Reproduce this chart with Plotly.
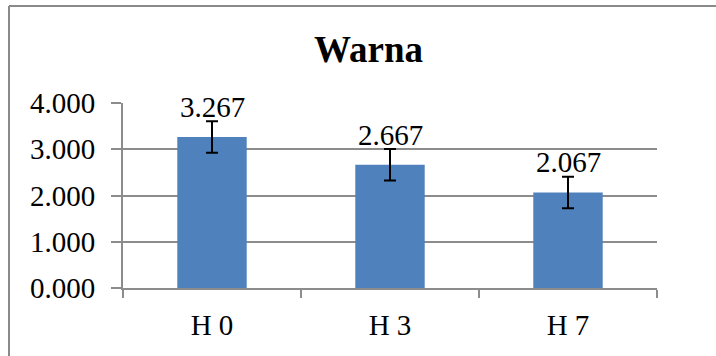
import plotly.graph_objects as go

categories = ["H 0", "H 3", "H 7"]
values = [3.267, 2.667, 2.067]
errors = [0.34, 0.34, 0.34]
labels = ["3.267", "2.667", "2.067"]
y_ticks = [0, 1, 2, 3, 4]
y_ticktext = ["0.000", "1.000", "2.000", "3.000", "4.000"]

FONT = "Liberation Serif, Times New Roman, serif"
GRID = "#8c8c8c"

fig = go.Figure()
fig.add_trace(go.Bar(
    x=categories, y=values,
    marker=dict(color="#4F81BD", line=dict(width=0)),
    width=0.39,
    error_y=dict(type="data", array=errors, visible=True,
                 color="black", thickness=2, width=6),
    hoverinfo="skip",
))

for c, v, t in zip(categories, values, labels):
    fig.add_annotation(x=c, y=v, text=t, showarrow=False,
                       xanchor="center", yanchor="bottom", yshift=12,
                       font=dict(family=FONT, size=29, color="black"))

fig.add_annotation(xref="paper", yref="paper", x=(368 - 123) / 534, y=(288 - 49) / 185,
                   text="<b>Warna</b>", showarrow=False,
                   xanchor="center", yanchor="middle",
                   font=dict(family=FONT, size=37, color="black"))

# outer chart frame (partly cut off by the page edges)
fx = (9 - 123) / 534
fy = (288 - 6) / 185
fig.add_shape(type="line", xref="paper", yref="paper", x0=fx, x1=1.3, y0=fy, y1=fy,
              line=dict(color="#8a8a8a", width=2))
fig.add_shape(type="line", xref="paper", yref="paper", x0=fx, x1=fx, y0=fy, y1=-0.6,
              line=dict(color="#8a8a8a", width=2))

fig.update_layout(
    width=716, height=356,
    margin=dict(l=123, r=59, t=103, b=68),
    paper_bgcolor="white", plot_bgcolor="white",
    showlegend=False,
    bargap=0.61,
    xaxis=dict(
        showline=True, linecolor=GRID, linewidth=2,
        ticks="outside", tickson="boundaries", ticklen=8, tickcolor=GRID, tickwidth=2,
        tickfont=dict(family=FONT, size=29, color="black"),
        ticklabelstandoff=10,
        showgrid=False, fixedrange=True,
    ),
    yaxis=dict(
        range=[0, 4], tickvals=y_ticks, ticktext=y_ticktext,
        showline=True, linecolor=GRID, linewidth=2,
        ticks="outside", ticklen=10, tickcolor=GRID, tickwidth=2,
        showgrid=True, gridcolor=GRID, gridwidth=2,
        zeroline=False,
        tickfont=dict(family=FONT, size=29, color="black"),
        ticklabelstandoff=10,
        fixedrange=True,
    ),
)

fig.write_html("out.html", config={"displayModeBar": False, "staticPlot": True},
               post_script="document.body.style.margin='0';document.body.style.overflow='hidden';")
